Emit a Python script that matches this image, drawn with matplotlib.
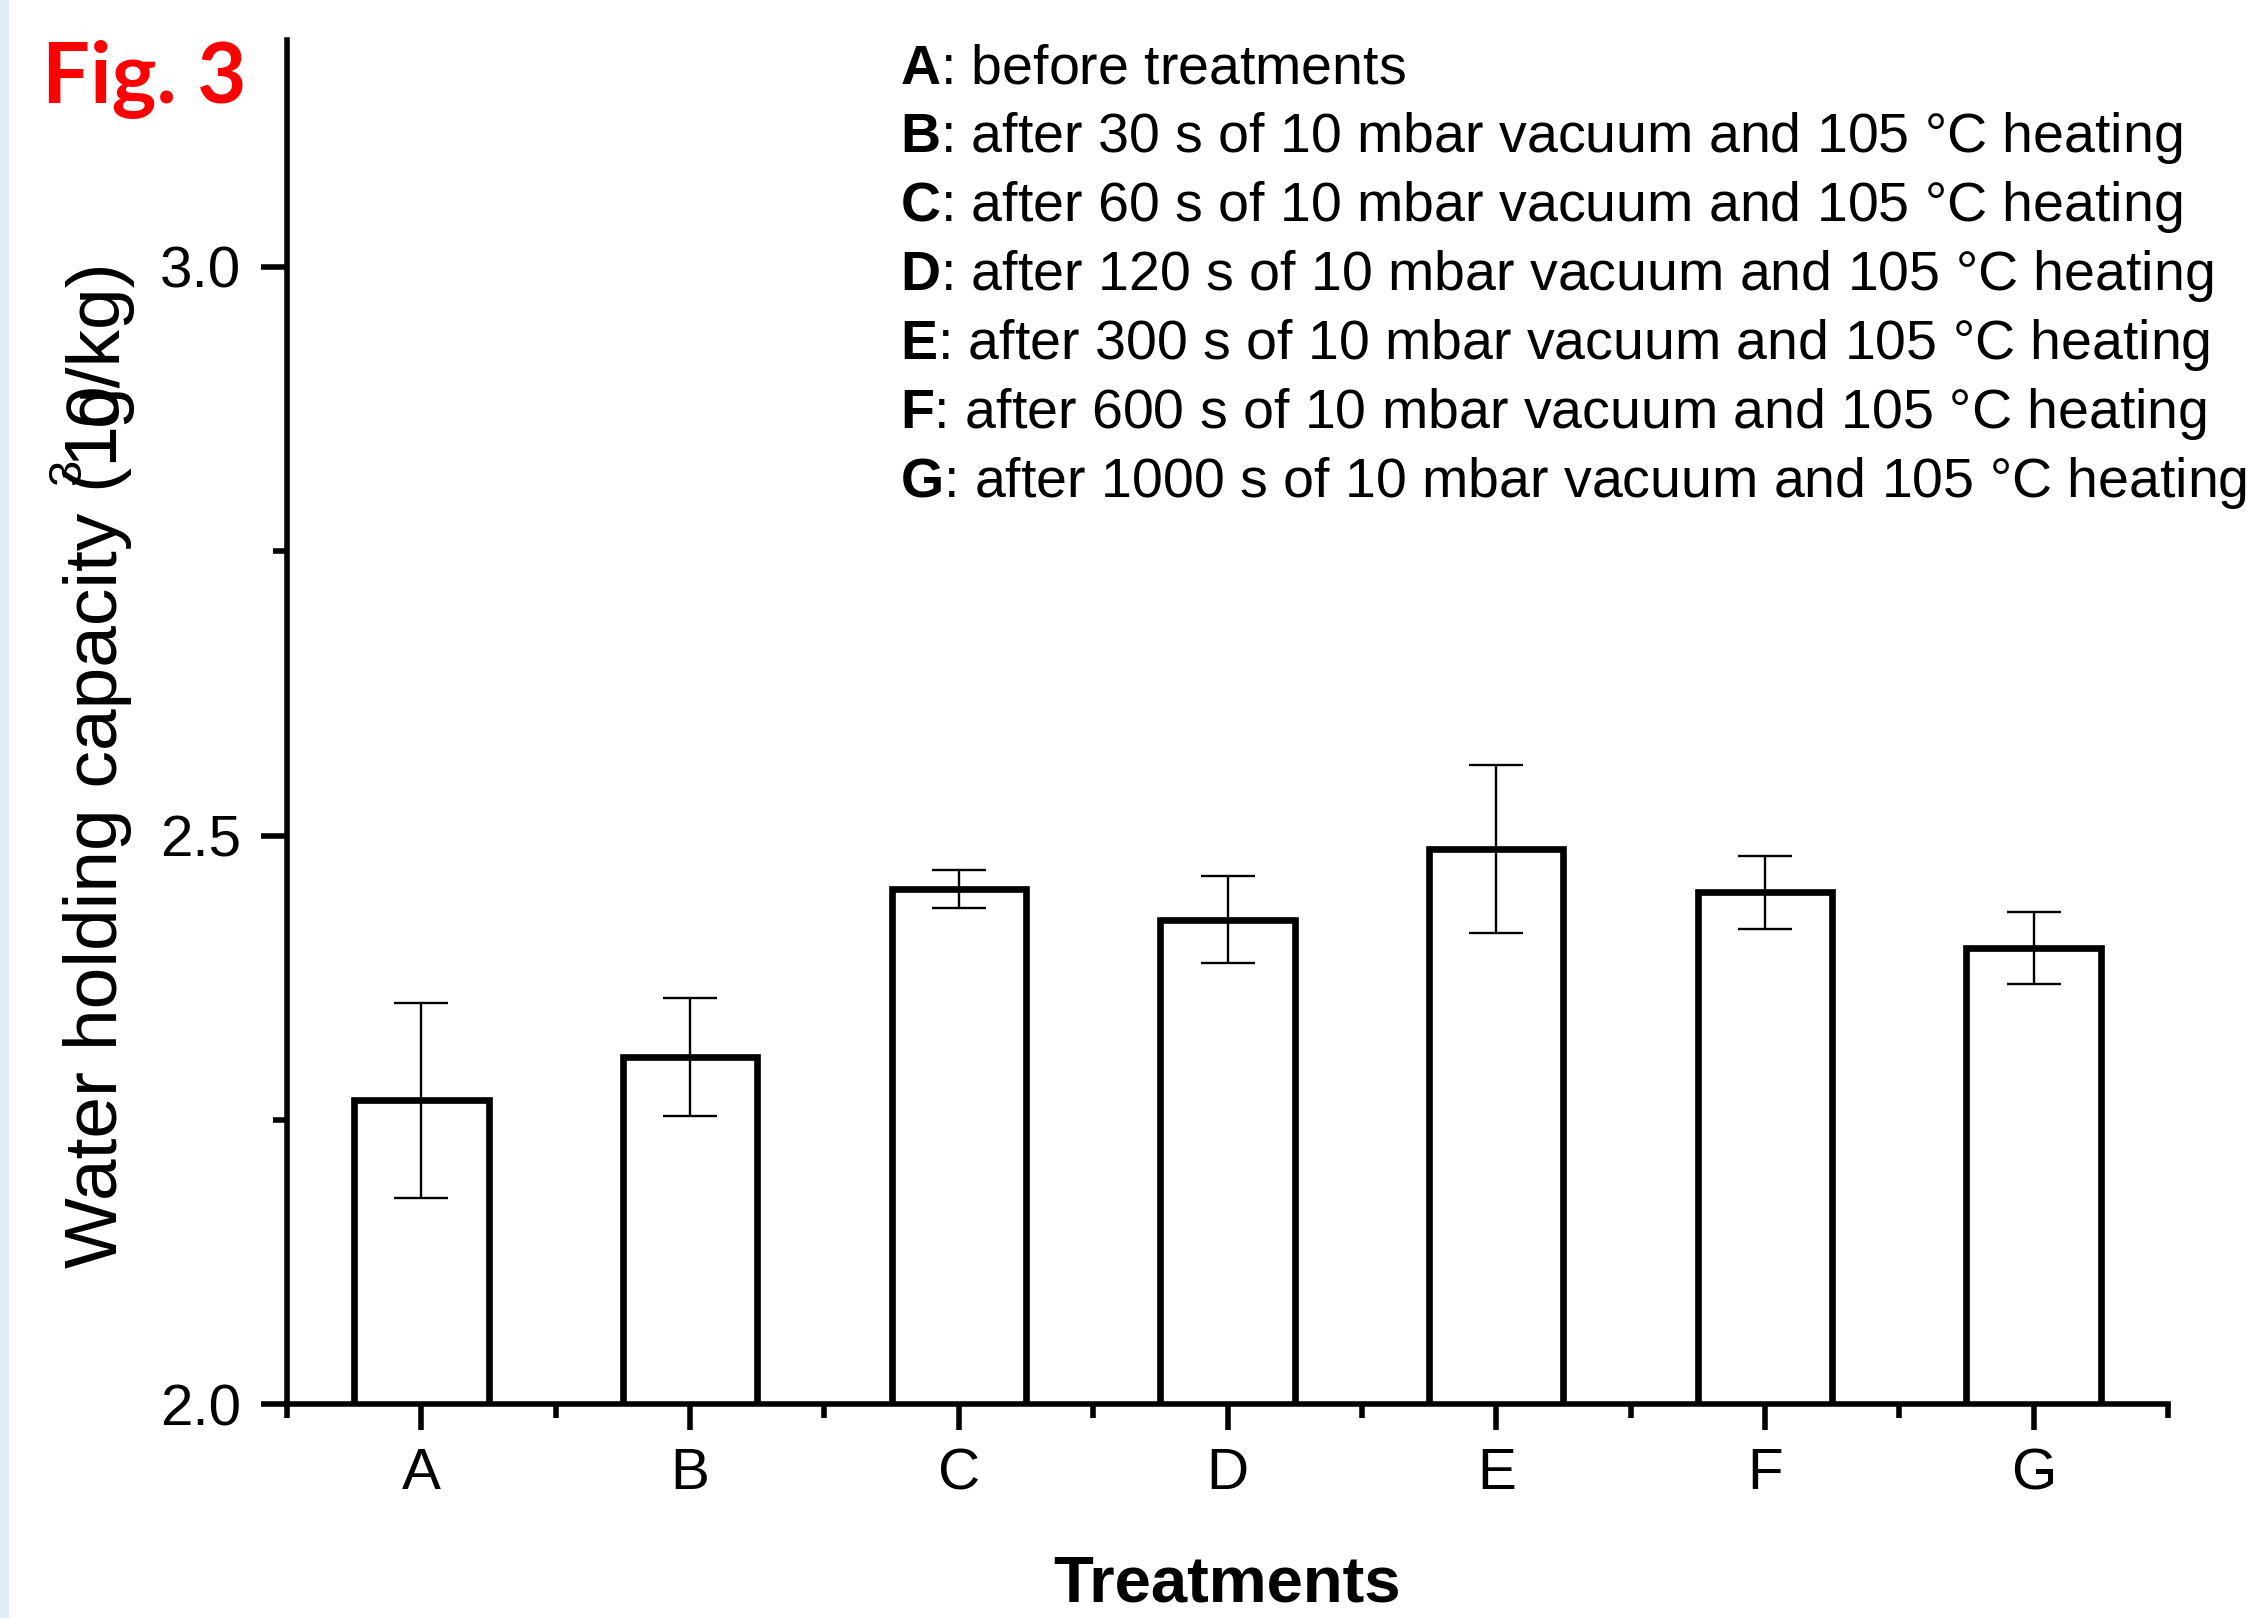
import matplotlib
matplotlib.use("Agg")
import matplotlib.pyplot as plt
from matplotlib.patches import Rectangle

# values
categories = ["A", "B", "C", "D", "E", "F", "G"]
whc = [2.267, 2.305, 2.453, 2.426, 2.488, 2.450, 2.401]
whc_err = [0.086, 0.052, 0.017, 0.038, 0.074, 0.032, 0.032]
y_major = [2.0, 2.5, 3.0]
y_minor = [2.25, 2.75]
notes = [
    ("A", "before treatments"),
    ("B", "after 30 s of 10 mbar vacuum and 105 °C heating"),
    ("C", "after 60 s of 10 mbar vacuum and 105 °C heating"),
    ("D", "after 120 s of 10 mbar vacuum and 105 °C heating"),
    ("E", "after 300 s of 10 mbar vacuum and 105 °C heating"),
    ("F", "after 600 s of 10 mbar vacuum and 105 °C heating"),
    ("G", "after 1000 s of 10 mbar vacuum and 105 °C heating"),
]

arial = ["Liberation Sans", "DejaVu Sans"]
plt.rcParams["mathtext.fontset"] = "custom"
plt.rcParams["mathtext.bf"] = "Liberation Sans:bold"
plt.rcParams["mathtext.rm"] = "Liberation Sans"

W, H, DPI = 2251, 1618, 100
fig = plt.figure(figsize=(W / DPI, H / DPI), dpi=DPI)
fig.patches.append(Rectangle((0, 0), 8 / W, 1, transform=fig.transFigure,
                             color="#e2ecf8", zorder=0))

ax = fig.add_axes([287 / W, 1 - 1404 / H, (2168 - 287) / W, (1404 - 39.6) / H])
pos = list(range(len(categories)))
ax.bar(pos, whc, width=0.5, color="white", edgecolor="black", linewidth=4.8, zorder=2)
ax.errorbar(pos, whc, yerr=whc_err, fmt="none", ecolor="black", elinewidth=1.7,
            capsize=19.5, capthick=1.7, zorder=3)

ax.set_xlim(-0.5, 6.5)
ax.set_ylim(2.0, 3.2)
ax.set_yticks(y_major)
ax.set_yticks(y_minor, minor=True)
ax.set_yticklabels([f"{v:.1f}" for v in y_major])
ax.set_xticks(pos)
ax.set_xticks([p - 0.5 for p in pos] + [6.5], minor=True)
ax.set_xticklabels(categories)
for s in ["top", "right"]:
    ax.spines[s].set_visible(False)
for s in ["left", "bottom"]:
    ax.spines[s].set_linewidth(4)
ax.tick_params(which="major", length=19, width=4, direction="out")
ax.tick_params(which="minor", length=10, width=4, direction="out")
ax.tick_params(axis="y", which="major", pad=14)
ax.tick_params(axis="x", which="major", pad=12)
for lab in ax.get_xticklabels() + ax.get_yticklabels():
    lab.set_family(arial)
    lab.set_fontsize(42)

# x label
fig.text(1227 / W, 17 / H, "Treatments", ha="center", va="baseline",
         fontsize=47, fontweight="bold", family=arial)

# y label, with the superscript glitch of the original
yl_x = 117 / W
fs = 54
t1 = fig.text(yl_x, 350 / H, "Water holding capacity (1", rotation=90,
              rotation_mode="anchor", ha="left", va="baseline", fontsize=fs, family=arial)
fig.canvas.draw()
end1 = t1.get_window_extent().y1
fig.text(yl_x, end1 / H, "0", rotation=90, rotation_mode="anchor",
         ha="left", va="baseline", fontsize=fs, family=arial)
fig.text(yl_x, end1 / H, "g/kg)", rotation=90, rotation_mode="anchor",
         ha="left", va="baseline", fontsize=fs, family=arial)
fig.text(80 / W, (end1 - 60) / H, "3", rotation=90, rotation_mode="anchor",
         ha="left", va="baseline", fontsize=34, family=arial)

# notes block
for i, (k, txt) in enumerate(notes):
    yb = 83 + 69 * i
    fig.text(900 / W, 1 - yb / H, r"$\mathbf{" + k + "}$: " + txt, ha="left",
             va="baseline", fontsize=40, family=arial)

fig.text(42 / W, 1 - 102 / H, "Fig. 3", color="#ff0000", fontsize=61,
         fontweight="bold", family=["Lato", "DejaVu Sans"], ha="left", va="baseline")

fig.savefig("out.png", dpi=DPI)
